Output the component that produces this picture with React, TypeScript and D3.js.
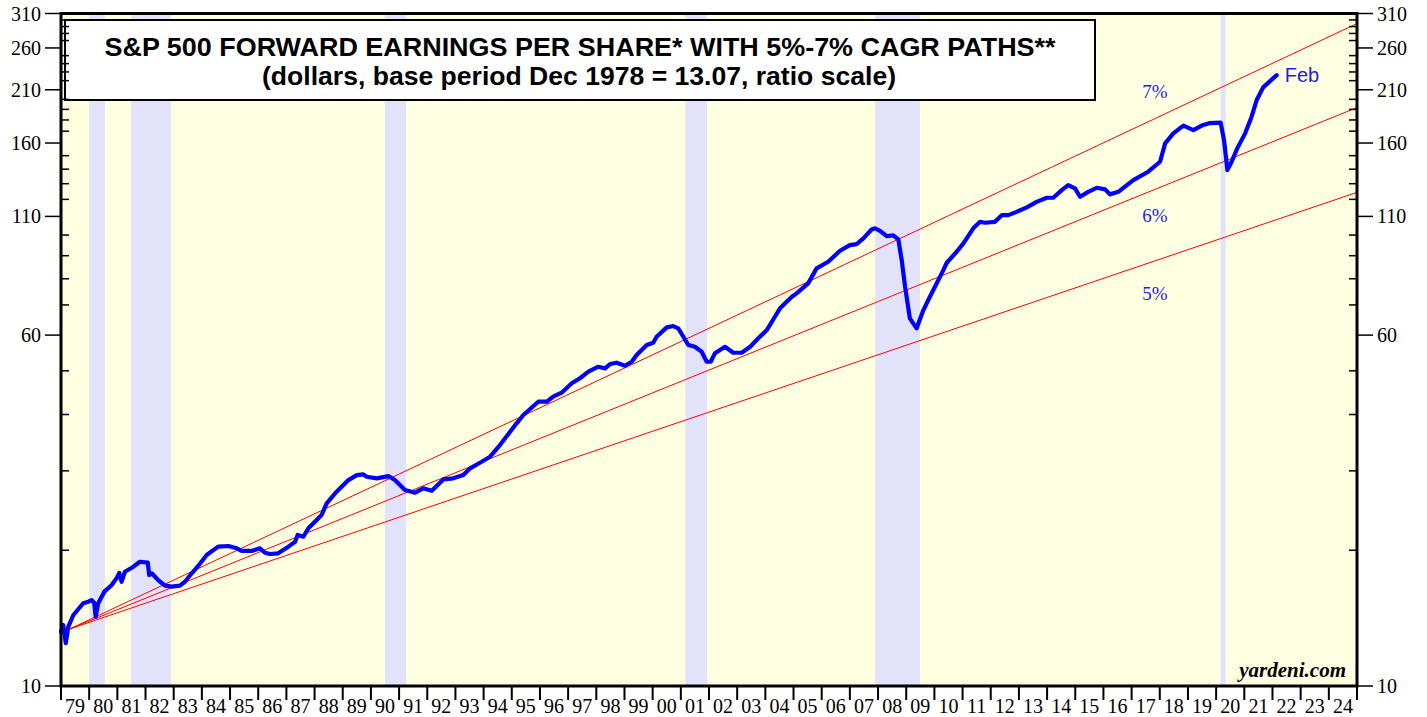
import React from 'react'
import * as d3 from 'd3'

const W = 1427
const H = 717
const left = 61
const right = 1357
const top = 13.5
const bottom = 686

// forward earnings (decimal year, dollars)
const epsYears = [
  1979.0, 1979.08, 1979.17, 1979.26, 1979.44, 1979.79, 1979.97, 1980.09, 1980.18, 1980.23,
  1980.32, 1980.54, 1980.8, 1980.98, 1981.07, 1981.15, 1981.27, 1981.57, 1981.8, 1982.08,
  1982.13, 1982.22, 1982.45, 1982.69, 1982.93, 1983.22, 1983.4, 1983.64, 1983.87, 1984.17,
  1984.58, 1984.94, 1985.24, 1985.41, 1985.77, 1986.06, 1986.24, 1986.42, 1986.71, 1987.07,
  1987.31, 1987.4, 1987.6, 1987.78, 1988.25, 1988.43, 1988.73, 1989.2, 1989.5, 1989.73,
  1989.85, 1990.21, 1990.62, 1990.85, 1991.21, 1991.57, 1991.86, 1992.16, 1992.57, 1992.92,
  1993.28, 1993.52, 1993.87, 1994.23, 1994.58, 1994.94, 1995.17, 1995.41, 1995.94, 1996.24,
  1996.47, 1996.77, 1997.13, 1997.42, 1997.72, 1998.07, 1998.31, 1998.49, 1998.72, 1999.02,
  1999.26, 1999.43, 1999.79, 2000.02, 2000.14, 2000.5, 2000.73, 2000.91, 2001.09, 2001.27,
  2001.5, 2001.74, 2001.92, 2002.06, 2002.21, 2002.57, 2002.86, 2003.16, 2003.46, 2003.75,
  2004.05, 2004.34, 2004.52, 2004.94, 2005.11, 2005.52, 2005.82, 2006.23, 2006.65, 2007.0,
  2007.24, 2007.48, 2007.77, 2007.89, 2008.07, 2008.31, 2008.54, 2008.72, 2008.84, 2008.96,
  2009.13, 2009.37, 2009.61, 2009.84, 2010.02, 2010.26, 2010.44, 2010.79, 2011.03, 2011.38,
  2011.62, 2011.8, 2012.15, 2012.39, 2012.62, 2012.92, 2013.28, 2013.63, 2013.99, 2014.22,
  2014.52, 2014.75, 2014.99, 2015.17, 2015.46, 2015.76, 2016.06, 2016.23, 2016.53, 2017.06,
  2017.59, 2018.01, 2018.19, 2018.48, 2018.84, 2019.19, 2019.49, 2019.78, 2020.16, 2020.28,
  2020.4, 2020.55, 2020.75, 2021.03, 2021.26, 2021.44, 2021.67, 2022.15,
]
const epsValues = [
  13.19, 13.66, 12.44, 13.54, 14.37, 15.26, 15.38, 15.51, 15.28, 14.24,
  15.26, 16.19, 16.75, 17.36, 17.81, 17.03, 17.92, 18.39, 18.86, 18.77,
  17.63, 17.78, 17.18, 16.69, 16.61, 16.69, 17.03, 17.78, 18.46, 19.52,
  20.37, 20.44, 20.2, 19.93, 19.93, 20.2, 19.75, 19.62, 19.69, 20.37,
  20.89, 21.62, 21.43, 22.37, 23.94, 25.42, 26.75, 28.62, 29.36, 29.47,
  29.11, 28.87, 29.21, 28.62, 27.2, 26.83, 27.44, 27.1, 28.72, 28.87,
  29.36, 30.39, 31.27, 32.25, 34.23, 36.64, 38.24, 39.9, 42.7, 42.7,
  43.81, 44.71, 46.91, 48.13, 49.78, 51.05, 50.63, 51.76, 52.11, 51.31,
  52.37, 54.19, 57.03, 57.7, 59.5, 62.42, 62.84, 62.11, 59.5, 57.03,
  56.53, 55.11, 52.37, 52.37, 54.67, 56.53, 54.83, 54.83, 56.53, 59.02,
  61.55, 65.89, 68.78, 72.98, 74.26, 78.15, 84.37, 87.26, 92.3, 95.02,
  95.5, 98.33, 102.9, 103.5, 102.2, 99.5, 99.8, 97.8, 88.0, 76.8,
  65.35, 62.11, 68.18, 72.98, 76.8, 82.25, 86.82, 91.83, 95.85, 103.5,
  107.0, 106.5, 107.0, 110.7, 110.7, 112.6, 115.2, 118.5, 121.0, 121.0,
  125.8, 129.1, 126.9, 121.6, 124.7, 127.3, 126.3, 123.1, 124.7, 132.4,
  138.2, 145.4, 159.7, 168.1, 174.9, 170.9, 174.9, 177.2, 177.5, 162.4,
  139.4, 145.4, 155.7, 168.1, 183.0, 199.3, 212.6, 226.3,
]

// CAGR paths
const cagrRates = [0.05, 0.06, 0.07]
const cagrLabels = ['5%', '6%', '7%']
const cagrLabelValues = [74, 110, 208]
const cagrStartYear = 1979.32
const cagrBase = 13.39

// recessions (start, end)
const recessionStarts = [1980.0, 1981.49, 1990.5, 2001.16, 2007.9, 2020.16]
const recessionEnds = [1980.56, 1982.9, 1991.25, 2001.93, 2009.49, 2020.34]

const yMajor = [10, 60, 110, 160, 210, 260, 310]
const yMinor = d3.range(20, 310, 10).filter(v => !yMajor.includes(v))
const years = d3.range(1979, 2025)

const x = d3.scaleLinear().domain([1979, 2025]).range([left, right])
const y = d3.scaleLog().domain([10, 310]).range([bottom, top])

const serif = '"Times New Roman", "Liberation Serif", serif'
const sans = 'Arial, "Liberation Sans", sans-serif'

export default function App() {
  const epsLine = d3.line<number>()
    .x((_, i) => x(epsYears[i]))
    .y(d => y(d))
  const lastIdx = epsYears.length - 1

  return (
    <div style={{ position: 'absolute', left: 0, top: 0 }}>
      <svg width={W} height={H} style={{ display: 'block', background: '#fff' }}>
        <rect x={left} y={top} width={right - left} height={bottom - top} fill="#FFFFE1" />
        {recessionStarts.map((s, i) => (
          <rect key={i} x={x(s)} y={top} width={x(recessionEnds[i]) - x(s)} height={bottom - top} fill="#E2E2FA" />
        ))}

        {cagrRates.map((r, i) => {
          const end = cagrBase * Math.pow(1 + r, 2025 - cagrStartYear)
          return (
            <line key={i} x1={x(cagrStartYear)} y1={y(cagrBase)} x2={x(2025)} y2={y(end)}
              stroke="#FF0000" strokeWidth={1} />
          )
        })}
        {cagrLabels.map((l, i) => (
          <text key={l} x={1155} y={y(cagrLabelValues[i]) + 6} textAnchor="middle"
            fontFamily={serif} fontSize={19} fill="#1E1EE6">{l}</text>
        ))}

        <path d={epsLine(epsValues) || ''} fill="none" stroke="#0000FF" strokeWidth={4.2}
          strokeLinejoin="round" strokeLinecap="round" />
        <text x={x(epsYears[lastIdx]) + 8} y={y(epsValues[lastIdx]) + 7} fontFamily={sans}
          fontSize={20} fill="#1E1EE6">Feb</text>

        {/* title box */}
        <rect x={65} y={20} width={1030} height={80} fill="#fff" stroke="#000" strokeWidth={2} />
        <text x={580} y={56} textAnchor="middle" fontFamily={sans} fontWeight="bold" fontSize={25.5}
          textLength={951} lengthAdjust="spacingAndGlyphs">
          S&amp;P 500 FORWARD EARNINGS PER SHARE* WITH 5%-7% CAGR PATHS**
        </text>
        <text x={579} y={85} textAnchor="middle" fontFamily={sans} fontWeight="bold" fontSize={25.5}
          textLength={634} lengthAdjust="spacingAndGlyphs">
          (dollars, base period Dec 1978 = 13.07, ratio scale)
        </text>

        <text x={1346} y={677} textAnchor="end" fontFamily={serif} fontWeight="bold"
          fontStyle="italic" fontSize={21}>yardeni.com</text>

        {/* frame */}
        <rect x={left} y={top} width={right - left} height={bottom - top} fill="none" stroke="#000" strokeWidth={3} />

        {/* y axes */}
        {[left, right].map((ax, k) => {
          const dir = k === 0 ? -1 : 1
          return (
            <g key={k}>
              {yMajor.map(v => (
                <g key={v}>
                  <line x1={ax} x2={ax + dir * 16} y1={y(v)} y2={y(v)} stroke="#000" strokeWidth={1.5} />
                  <text x={ax + dir * 20} y={y(v) + 7} textAnchor={k === 0 ? 'end' : 'start'}
                    fontFamily={serif} fontSize={20}>{v}</text>
                </g>
              ))}
              {yMinor.map(v => (
                <line key={v} x1={ax} x2={ax - dir * 8} y1={y(v)} y2={y(v)} stroke="#000" strokeWidth={1.5} />
              ))}
            </g>
          )
        })}

        {/* x axis */}
        {years.map(yr => (
          <g key={yr}>
            <line x1={x(yr)} x2={x(yr)} y1={bottom} y2={bottom + 14} stroke="#000" strokeWidth={2} />
            <text x={x(yr + 0.5)} y={713} textAnchor="middle" fontFamily={serif} fontSize={20}>
              {String(yr % 100).padStart(2, '0')}
            </text>
          </g>
        ))}
        <line x1={x(2025)} x2={x(2025)} y1={bottom} y2={bottom + 14} stroke="#000" strokeWidth={2} />
      </svg>
    </div>
  )
}
